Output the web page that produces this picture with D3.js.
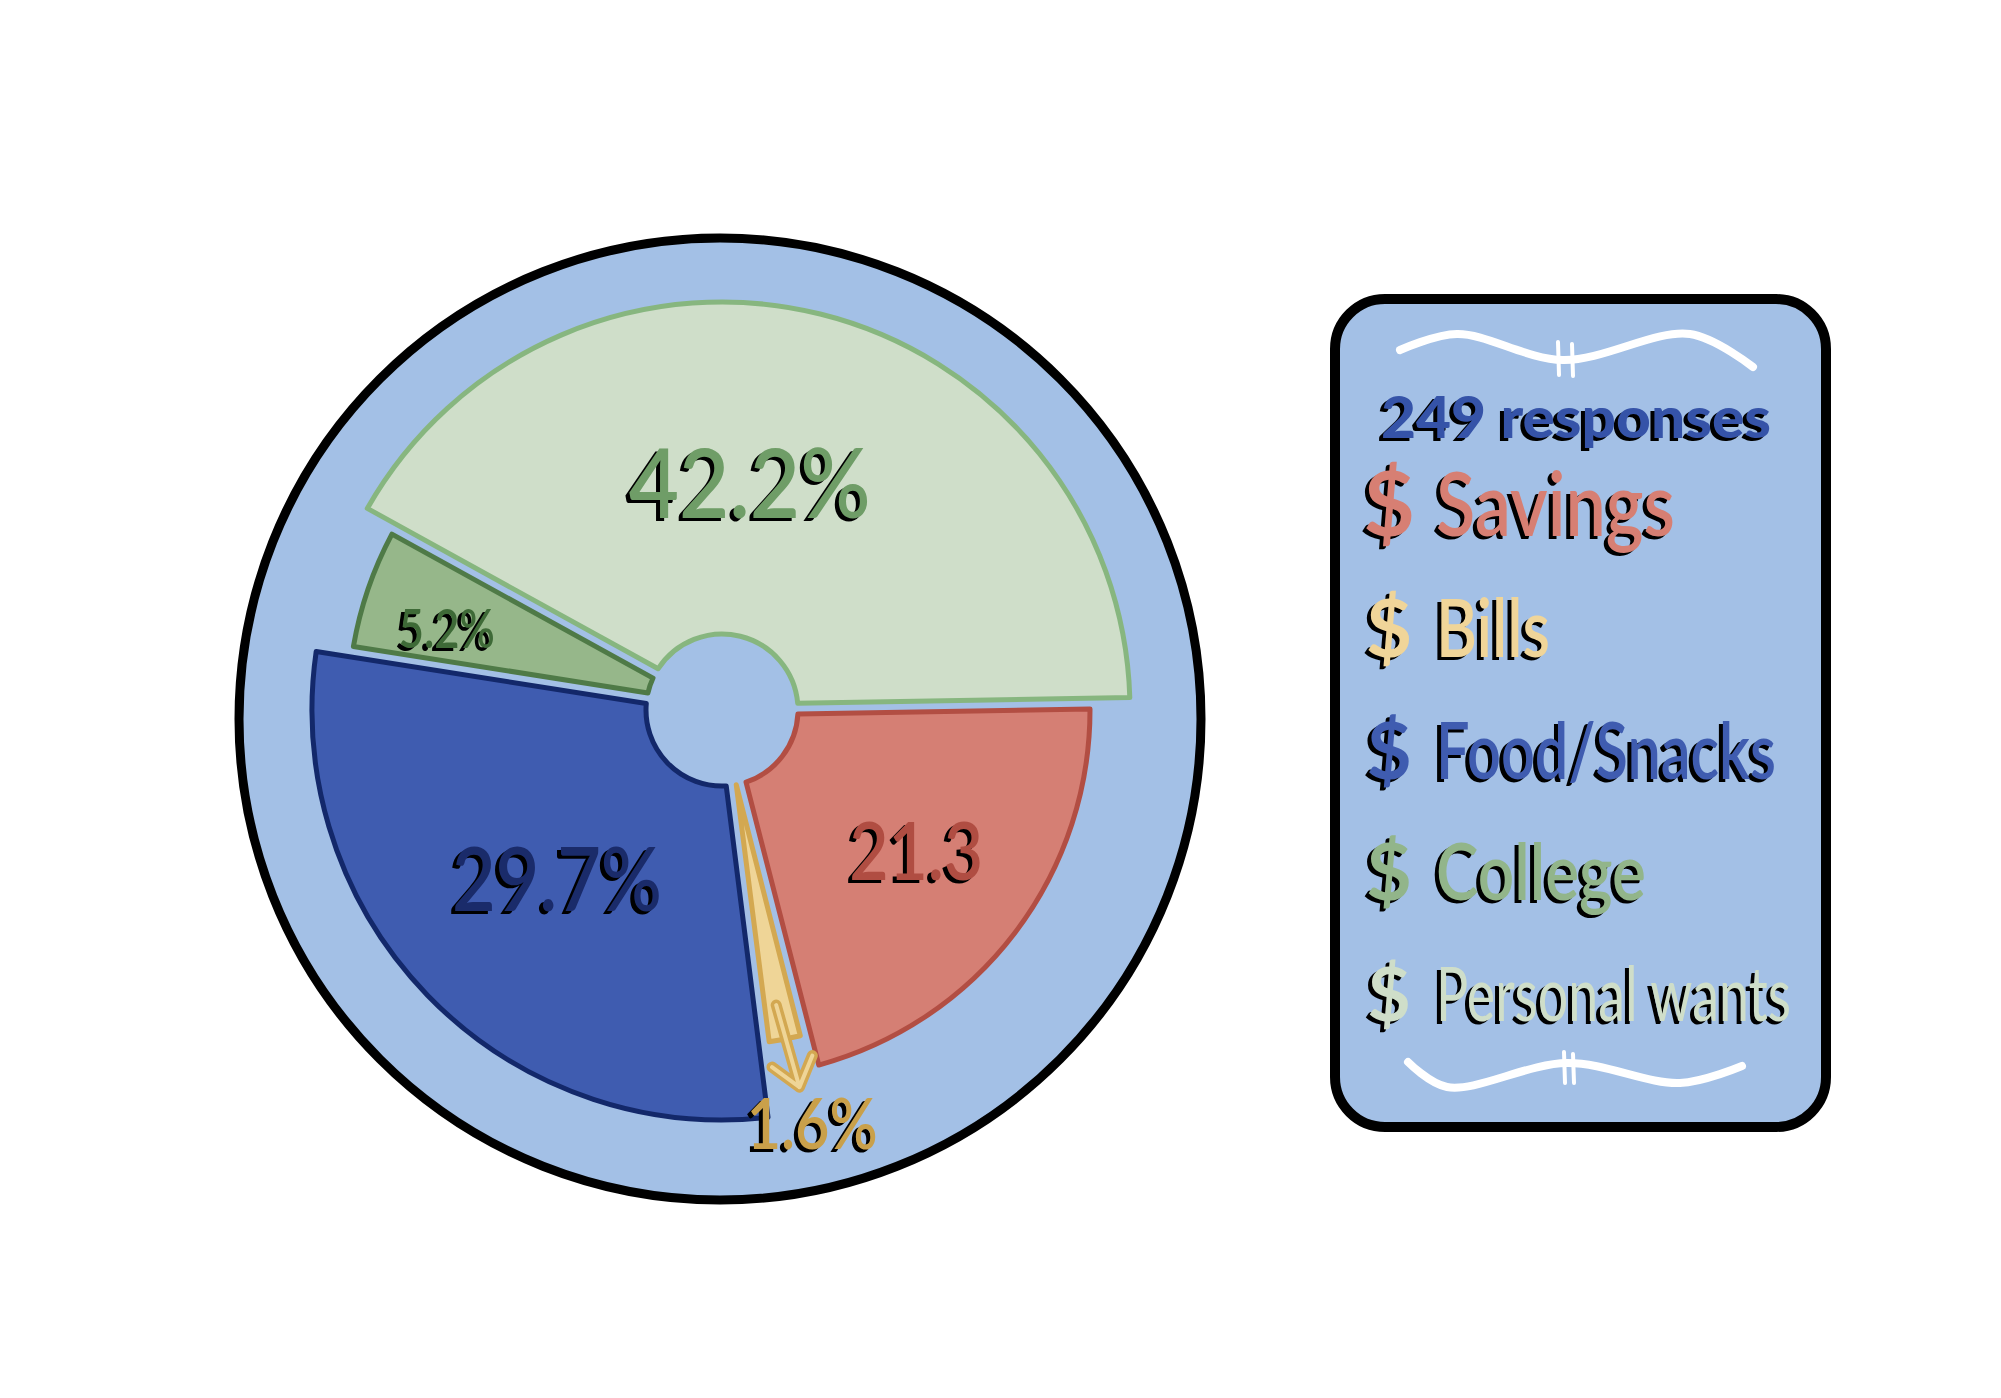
<!DOCTYPE html>
<html>
<head>
<meta charset="utf-8">
<script src="https://cdn.jsdelivr.net/npm/d3@7"></script>
<style>
  body { margin: 0; background: #fff; }
  text { font-family: Futura, "Century Gothic", Lato, sans-serif; }
</style>
</head>
<body>
<script>
// survey: where does your money go?
const categories = ["Savings", "Bills", "Food/Snacks", "College", "Personal wants"];
const shares = [21.3, 1.6, 29.7, 5.2, 42.2];
const sliceLabels = ["21.3", "1.6%", "29.7%", "5.2%", "42.2%"];
const responses = 249;

// look of each slice (same order as categories)
const fills = ["#d57f74", "#efd597", "#3f5cb0", "#96b78a", "#cfdec9"];
const strokes = ["#b24e43", "#d3a851", "#13286a", "#4f7a47", "#87b67f"];
const labelInk = ["#b04d42", "#c9a04a", "#1a2b6a", "#3e6a37", "#6f9d67"];
const legendInk = ["#d77f73", "#f0d599", "#3f5cb0", "#92b58a", "#cfdec9"];
const outerR = [368, 335, 410, 374, 408];
const labelR = [240, 423, 236, 287, 229];
const labelTurn = [-1.3, -1.5, -1.5, -2.5, -7];
const labelSize = [80, 71, 89, 53, 97];
const labelWidth = [134, 131, 210, 96, 242];
const legendSize = [89, 80, 78, 79, 75];
const legendWidth = [239, 114, 340, 210, 355];
const legendWeight = [600, 600, 600, 600, 400];

const width = 2001, height = 1398;
const cx = 722, cy = 710;
const rad = Math.PI / 180;

const svg = d3.select("body").append("svg")
    .attr("width", width)
    .attr("height", height)
    .attr("viewBox", [0, 0, width, height]);

// big round plate
svg.append("circle")
    .attr("cx", 720).attr("cy", 719).attr("r", 481)
    .attr("fill", "#a3c0e6")
    .attr("stroke", "#000")
    .attr("stroke-width", 9);

const pie = d3.pie()
    .sort(null)
    .value(d => d)
    .startAngle(89 * rad)
    .endAngle(449 * rad)
    .padAngle(0.028);

const arcs = pie(shares);

const g = svg.append("g").attr("transform", `translate(${cx},${cy})`);

g.selectAll("path.slice")
  .data(arcs)
  .join("path")
    .attr("class", "slice")
    .attr("d", (d, i) => d3.arc().innerRadius(76).outerRadius(outerR[i]).padRadius(380)(d))
    .attr("fill", (d, i) => fills[i])
    .attr("stroke", (d, i) => strokes[i])
    .attr("stroke-width", 5)
    .attr("stroke-linejoin", "round");

function polar(r, deg) {
  return [r * Math.sin(deg * rad), -r * Math.cos(deg * rad)];
}
function midDeg(d) {
  return (d.startAngle + d.endAngle) / 2 / rad;
}

// arrow from the thin Bills slice down to its label
const bills = arcs[1];
const a0 = polar(300, midDeg(bills) + 0.4);
const a1 = polar(385, midDeg(bills) - 0.8);
const dir = Math.atan2(a1[1] - a0[1], a1[0] - a0[0]);
const head = [-38, 38].map(t => {
  const ang = dir + Math.PI + t * rad;
  return [a1[0] + 34 * Math.cos(ang), a1[1] + 34 * Math.sin(ang)];
});
const arrow = g.append("g").attr("fill", "none").attr("stroke-linecap", "round").attr("stroke-linejoin", "round");
arrow.append("path")
    .attr("d", `M${a0}L${a1}M${head[0]}L${a1}L${head[1]}`)
    .attr("stroke", strokes[1])
    .attr("stroke-width", 11);
arrow.append("path")
    .attr("d", `M${a0}L${a1}M${head[0]}L${a1}L${head[1]}`)
    .attr("stroke", fills[1])
    .attr("stroke-width", 4);

// slice labels with a black drop shadow
const lab = g.selectAll("g.label")
  .data(arcs)
  .join("g")
    .attr("class", "label")
    .attr("transform", (d, i) => `translate(${polar(labelR[i], midDeg(d) + labelTurn[i])})`);

[["#000", -4, 3], [null, 0, 0]].forEach(([ink, dx, dy]) => {
  lab.append("text")
      .attr("x", dx).attr("y", dy)
      .attr("dy", "0.36em")
      .attr("text-anchor", "middle")
      .attr("font-size", (d, i) => labelSize[i])
      .attr("font-weight", 600)
      .attr("textLength", (d, i) => labelWidth[i])
      .attr("lengthAdjust", "spacingAndGlyphs")
      .attr("fill", (d, i) => ink || labelInk[i])
      .text((d, i) => sliceLabels[i]);
});

// legend card
const box = {x: 1335, y: 299, w: 491, h: 828};
svg.append("rect")
    .attr("x", box.x).attr("y", box.y)
    .attr("width", box.w).attr("height", box.h)
    .attr("rx", 50)
    .attr("fill", "#a3c0e6")
    .attr("stroke", "#000")
    .attr("stroke-width", 10);

// white flourishes above and below
const flourish = d3.line().curve(d3.curveCatmullRom);
const deco = svg.append("g")
    .attr("fill", "none")
    .attr("stroke", "#fff")
    .attr("stroke-linecap", "round");
deco.append("path")
    .attr("d", flourish([[1400, 350], [1457, 334], [1563, 360], [1690, 334], [1753, 367]]))
    .attr("stroke-width", 8);
deco.append("path")
    .attr("d", "M1558,342L1559,375M1572,344L1573,376")
    .attr("stroke-width", 4);
deco.append("path")
    .attr("d", flourish([[1408, 1062], [1447, 1087], [1567, 1063], [1680, 1083], [1742, 1066]]))
    .attr("stroke-width", 8);
deco.append("path")
    .attr("d", "M1564,1052L1565,1083M1573,1054L1574,1083")
    .attr("stroke-width", 4);

[["#000", -4, 3], ["#3553a8", 0, 0]].forEach(([ink, dx, dy]) => {
  svg.append("text")
      .attr("x", 1576 + dx).attr("y", 438 + dy)
      .attr("text-anchor", "middle")
      .attr("font-size", 58)
      .attr("font-weight", 900)
      .attr("textLength", 390)
      .attr("lengthAdjust", "spacingAndGlyphs")
      .attr("fill", ink)
      .text(`${responses} responses`);
});

const y = d3.scalePoint().domain(categories).range([536, 1021]);

const rows = svg.selectAll("g.row")
  .data(categories)
  .join("g")
    .attr("class", "row")
    .attr("transform", d => `translate(0,${y(d)})`);

[["#000", -4, 3], [null, 0, 0]].forEach(([ink, dx, dy]) => {
  rows.append("text")
      .attr("x", 1389 + dx).attr("y", dy)
      .attr("text-anchor", "middle")
      .attr("font-size", (d, i) => legendSize[i])
      .attr("font-weight", 700)
      .attr("fill", (d, i) => ink || legendInk[i])
      .text("$");
  rows.append("text")
      .attr("x", 1436 + dx).attr("y", dy)
      .attr("font-size", (d, i) => legendSize[i])
      .attr("font-weight", (d, i) => legendWeight[i])
      .attr("textLength", (d, i) => legendWidth[i])
      .attr("lengthAdjust", "spacingAndGlyphs")
      .attr("fill", (d, i) => ink || legendInk[i])
      .text(d => d);
});
</script>
</body>
</html>
